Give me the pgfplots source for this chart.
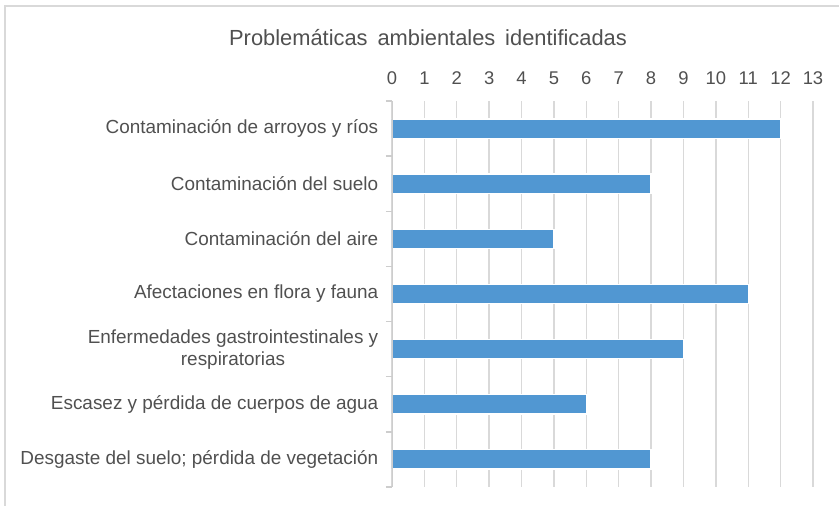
\documentclass[border=0pt]{standalone}
\usepackage{fontspec}
\setmainfont{Liberation Sans}
\usepackage{pgfplots}
\pgfplotsset{compat=1.18}
\definecolor{barblue}{RGB}{81,151,210}
\definecolor{txt}{RGB}{80,80,80}
\definecolor{gridc}{RGB}{217,217,217}
\definecolor{axisc}{RGB}{205,205,205}
\begin{document}
\begin{tikzpicture}[x=0.75pt,y=0.75pt]
\useasboundingbox (0,0) rectangle (839,506);
\clip (0,0) rectangle (839,506);
\draw[gridc, line width=1.5pt] (5,-20) rectangle (900,500);
\node[txt, font=\fontsize{16.4}{19}\selectfont] at (428,468) {Problemáticas\hspace{0.45em}ambientales\hspace{0.45em}identificadas};
\begin{axis}[
  at={(294pt,14.25pt)}, anchor=south west,
  scale only axis, width=315.75pt, height=289.5pt,
  xmin=0, xmax=13, ymin=-0.5, ymax=6.5,
  axis line style={draw=none},
  xtick={0,...,13},
  xticklabel pos=top,
  xmajorgrids,
  major x grid style={gridc, line width=1pt},
  major x tick style={draw=none},
  ytick={0,...,6},
  ytick pos=left,
  major y tick style={draw=none},
  minor ytick={-0.5,0.5,...,6.5},
  minor y tick style={axisc, line width=1pt},
  minor tick length=4.5pt,
  tick align=outside,
  yticklabels={
    Desgaste del suelo; pérdida de vegetación,
    Escasez y pérdida de cuerpos de agua,
    {Enfermedades gastrointestinales y\\respiratorias},
    Afectaciones en flora y fauna,
    Contaminación del aire,
    Contaminación del suelo,
    Contaminación de arroyos y ríos},
  yticklabel style={align=center, anchor=east, xshift=-2.5pt, txt,
    font=\fontsize{14.2}{16.5}\selectfont},
  xticklabel style={txt, font=\fontsize{13.8}{16}\selectfont, yshift=4.5pt},
  /pgf/number format/assume math mode=true,
  xbar, bar width=14.5pt,
]
\addplot[fill=barblue, draw=white, line width=0.9pt] coordinates {
  (12,6) (8,5) (5,4) (11,3) (9,2) (6,1) (8,0)};
\draw[axisc, line width=1pt] (axis cs:0,-0.5) -- (axis cs:0,6.5);
\end{axis}
\end{tikzpicture}
\end{document}
